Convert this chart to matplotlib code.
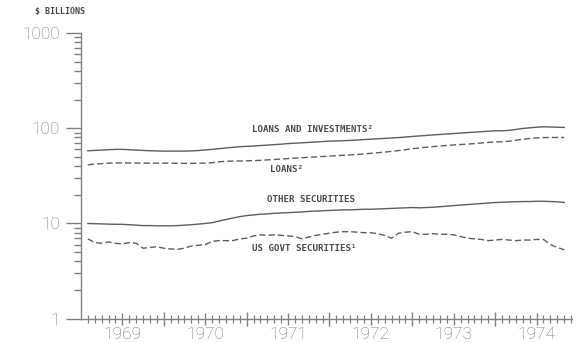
import numpy as np
import matplotlib
matplotlib.use("Agg")
import matplotlib.pyplot as plt
from matplotlib.ticker import FixedLocator, NullFormatter, NullLocator

# monthly values, Jan 1969 - Oct 1974 ($ billions), plotted at month end
loans_inv = [58.0, 58.5, 59.0, 59.5, 60.0, 60.0, 59.5, 59.0, 58.5, 58.0, 57.8, 57.5,
             57.5, 57.5, 57.5, 57.8, 58.3, 59.2, 60.0, 61.0, 62.0, 63.0, 64.0, 64.5,
             65.0, 65.8, 66.5, 67.3, 68.0, 69.0, 69.7, 70.3, 71.0, 71.7, 72.5, 73.2,
             73.5, 74.0, 74.5, 75.2, 76.0, 76.8, 77.5, 78.2, 79.0, 79.8, 80.8, 82.0,
             83.0, 84.0, 85.0, 86.0, 87.0, 88.0, 89.0, 90.0, 91.0, 92.0, 93.0, 94.0,
             94.0, 95.0, 97.0, 99.5, 101.0, 102.5, 103.5, 103.0, 102.5, 102.0]
loans = [41.3, 42.0, 42.5, 43.0, 43.2, 43.2, 43.2, 43.1, 43.0, 43.0, 43.0, 43.0,
         43.0, 42.8, 42.8, 42.8, 43.0, 43.0, 43.5, 44.5, 45.0, 45.2, 45.3, 45.5,
         45.7, 46.0, 46.5, 47.0, 47.5, 48.0, 48.5, 49.0, 49.5, 50.0, 50.5, 51.0,
         51.5, 52.0, 52.5, 53.0, 53.8, 54.5, 55.3, 56.2, 57.2, 58.3, 59.5, 61.0,
         62.0, 63.2, 64.2, 65.0, 66.0, 66.8, 67.5, 68.1, 69.0, 70.0, 71.0, 72.0,
         72.0, 73.0, 74.8, 76.5, 78.0, 79.2, 79.8, 80.0, 80.0, 80.0]
other_sec = [10.0, 9.95, 9.9, 9.85, 9.8, 9.8, 9.7, 9.6, 9.5, 9.5, 9.45, 9.45,
             9.45, 9.5, 9.6, 9.7, 9.85, 10.0, 10.2, 10.6, 11.0, 11.4, 11.8, 12.1,
             12.3, 12.5, 12.6, 12.8, 12.9, 13.0, 13.1, 13.2, 13.4, 13.5, 13.6, 13.7,
             13.8, 13.9, 13.9, 14.0, 14.1, 14.1, 14.2, 14.3, 14.4, 14.5, 14.6, 14.7,
             14.6, 14.7, 14.8, 15.0, 15.2, 15.4, 15.6, 15.8, 16.0, 16.2, 16.4, 16.6,
             16.7, 16.8, 16.9, 17.0, 17.0, 17.1, 17.1, 17.0, 16.9, 16.6]
us_govt = [6.9, 6.3, 6.2, 6.4, 6.2, 6.1, 6.3, 6.2, 5.5, 5.6, 5.7, 5.5,
           5.4, 5.35, 5.5, 5.8, 5.9, 6.0, 6.5, 6.6, 6.6, 6.6, 6.9, 7.0,
           7.4, 7.6, 7.5, 7.6, 7.5, 7.4, 7.3, 6.9, 7.2, 7.5, 7.7, 7.9,
           8.1, 8.2, 8.2, 8.1, 8.0, 8.0, 7.8, 7.5, 7.0, 7.9, 8.1, 8.2,
           7.7, 7.7, 7.8, 7.7, 7.7, 7.6, 7.3, 7.0, 6.9, 6.8, 6.6, 6.7,
           6.8, 6.7, 6.6, 6.7, 6.7, 6.8, 6.8, 6.0, 5.6, 5.3]

years = [1969, 1970, 1971, 1972, 1973, 1974]
year_labels = ["1969", "1970", "1971", "1972", "1973", "1974"]

t = 1969 + (np.arange(len(loans_inv)) + 1) / 12.0

line_col = "#5e5e5e"
axis_col = "#808080"
text_col = "#4a4a4a"

fig = plt.figure(figsize=(5.78, 3.43), dpi=100)
ax = fig.add_axes([0.140, 0.0708, 0.850, 0.8330])

ax.plot(t, loans_inv, color=line_col, lw=1.0)
ax.plot(t, loans, color=line_col, lw=1.0, dashes=(4.5, 2.2))
ax.plot(t, other_sec, color=line_col, lw=1.0)
ax.plot(t, us_govt, color=line_col, lw=1.0, dashes=(4.5, 2.2))

ax.set_yscale("log")
ax.set_ylim(1, 1000)
ax.set_xlim(1969, 1974.93)

for s in ["top", "right"]:
    ax.spines[s].set_visible(False)
for s in ["left", "bottom"]:
    ax.spines[s].set_color(axis_col)
    ax.spines[s].set_linewidth(1.0)

# y axis
ax.yaxis.set_major_locator(FixedLocator([1, 10, 100, 1000]))
ax.set_yticklabels(["1", "10", "100", "1000"])
minors = [m * 10 ** d for d in range(3) for m in range(2, 10)]
ax.yaxis.set_minor_locator(FixedLocator(minors))
ax.yaxis.set_minor_formatter(NullFormatter())
ax.tick_params(axis="y", which="major", length=11, width=1.0, color=axis_col,
               direction="out", pad=4, labelsize=12.5, labelcolor="#777777")
ax.tick_params(axis="y", which="minor", length=5, width=1.0, color=axis_col,
               direction="out")

# x axis: year boundaries and months
ax.xaxis.set_major_locator(FixedLocator(years[1:]))
ax.xaxis.set_major_formatter(NullFormatter())
months = [1969 + k / 12.0 for k in range(1, 72) if k % 12 != 0 and k % 12 != 6]
ax.xaxis.set_minor_locator(FixedLocator(months))
ax.tick_params(axis="x", which="major", length=10, width=1.0, color=axis_col,
               direction="inout")
ax.tick_params(axis="x", which="minor", length=6, width=0.9, color=axis_col,
               direction="inout")

# mid-year ticks carry the year labels
sec = ax.secondary_xaxis("bottom")
sec.spines["bottom"].set_visible(False)
sec.xaxis.set_major_locator(FixedLocator([y + 0.5 for y in years]))
sec.set_xticklabels(year_labels)
sec.xaxis.set_minor_locator(NullLocator())
sec.tick_params(axis="x", length=8, width=1.0, color=axis_col, direction="inout",
                pad=2, labelsize=12.5, labelcolor="#777777")

for lab in ax.get_yticklabels() + sec.get_xticklabels():
    lab.set_family(["Roboto", "DejaVu Sans"])
    lab.set_fontweight("light")

lbl = dict(family="DejaVu Sans Mono", fontsize=6.6, color=text_col,
           fontweight="bold", va="center", ha="left")
ax.text(1971.06, 96.2, "LOANS AND INVESTMENTS²", **lbl)
ax.text(1971.28, 36.5, "LOANS²", **lbl)
ax.text(1971.25, 17.7, "OTHER SECURITIES", **lbl)
ax.text(1971.06, 5.5, "US GOVT SECURITIES¹", **lbl)

fig.text(0.0606, 0.966, "$ BILLIONS", family="DejaVu Sans Mono", fontsize=6.0,
         color=text_col, fontweight="bold", va="center", ha="left")

fig.savefig("out.png", dpi=100)
